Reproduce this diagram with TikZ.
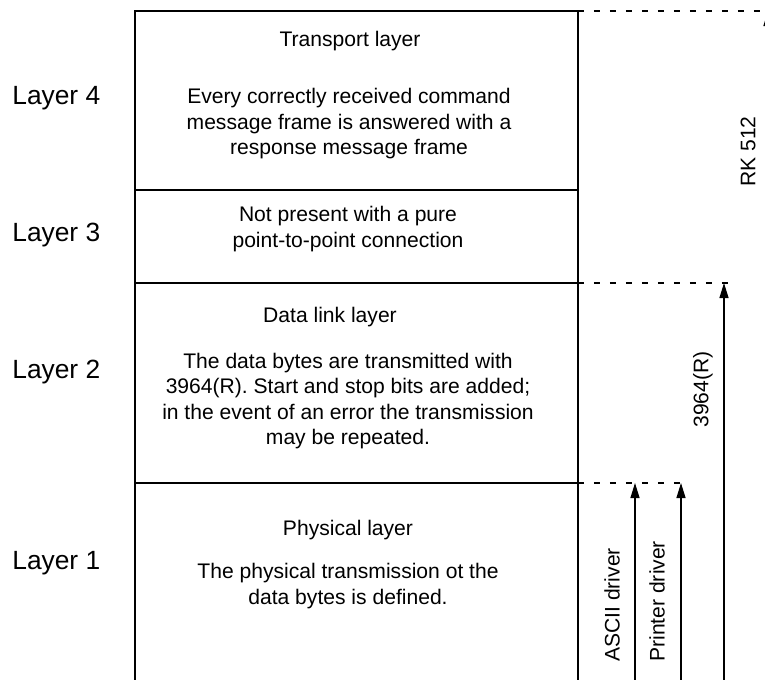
\documentclass[tikz,border=0pt]{standalone}
\usepackage{fontspec}
\setmainfont{Liberation Sans}
\usetikzlibrary{arrows.meta}
\tikzstyle{layerbox}=[line width=1.1pt]
\tikzstyle{dashln}=[dash pattern=on 0.12cm off 0.2cm, line width=0.8pt]
\tikzstyle{up>}=[-{Triangle[length=0.3cm,width=0.18cm]}, line width=0.7pt]
\tikzstyle{laytxt}=[font=\fontsize{15}{18}\selectfont, anchor=west, inner sep=0pt]
\tikzstyle{boxtxt}=[font=\fontsize{12}{14.5}\selectfont, align=center, inner sep=0pt]
\tikzstyle{drvtxt}=[font=\fontsize{12}{14.5}\selectfont, rotate=90, anchor=west, inner sep=0pt]
\begin{document}
\begin{tikzpicture}[x=0.02cm, y=0.02cm]
\useasboundingbox (0,0) rectangle (765,-680);
\clip (0,0) rectangle (765,-680);
\draw[layerbox] (135,-11) rectangle (578,-720);
\coordinate (r5) at (578,-11);
\foreach \n/\y in {4/190, 3/283, 2/483} {
 \coordinate (l\n) at (135,-\y);
 \coordinate (r\n) at (578,-\y);
 \draw[layerbox] (l\n) -- (r\n);
}
\foreach \n/\y/\e in {5/11/800, 3/283/735, 2/483/683} {
 \coordinate (d\n) at (\e,-\y);
 \draw[dashln] (r\n) -- (d\n);
}
\foreach \n/\y in {4/98, 3/235, 2/372, 1/563}
 \node[laytxt] (layer\n) at (12,-\y) {Layer \n};
\node[boxtxt] (title4) at (350,-41) {Transport layer};
\node[boxtxt] (body4) at (349,-124) {Every correctly received command\\message frame is answered with a\\response message frame};
\node[boxtxt] (body3) at (348,-229) {Not present with a pure\\point-to-point connection};
\node[boxtxt] (title2) at (330,-317) {Data link layer};
\node[boxtxt] (body2) at (348,-401) {The data bytes are transmitted with\\3964(R). Start and stop bits are added;\\in the event of an error the transmission\\may be repeated.};
\node[boxtxt] (title1) at (348,-530) {Physical layer};
\node[boxtxt] (body1) at (348,-586) {The physical transmission ot the\\data bytes is defined.};
\foreach \n/\x/\y in {ascii/635/483, printer/681/483, r3964/724/283, rk/768/11} {
 \coordinate (b\n) at (\x,-720);
 \coordinate (t\n) at (\x,-\y);
 \draw[up>] (b\n) -- (t\n);
}
\node[drvtxt] (lascii) at (612,-662) {ASCII driver};
\node[drvtxt] (lprinter) at (657,-662) {Printer driver};
\node[drvtxt] (l3964) at (703,-428) {3964(R)};
\node[drvtxt] (lrk) at (748,-187) {RK 512};
\end{tikzpicture}
\end{document}
